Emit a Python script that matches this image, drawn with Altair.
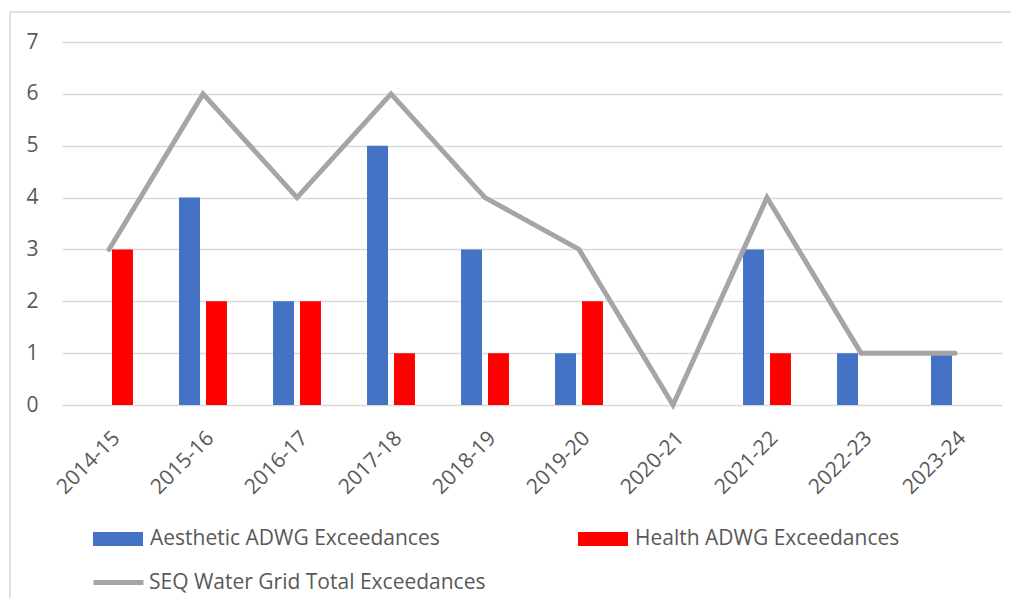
import altair as alt
import pandas as pd

years = ["2014-15", "2015-16", "2016-17", "2017-18", "2018-19",
         "2019-20", "2020-21", "2021-22", "2022-23", "2023-24"]
aesthetic = [0, 4, 2, 5, 3, 1, 0, 3, 1, 1]
health = [3, 2, 2, 1, 1, 2, 0, 1, 0, 0]
total = [3, 6, 4, 6, 4, 3, 0, 4, 1, 1]

bar_series = ["Aesthetic ADWG Exceedances", "Health ADWG Exceedances"]
line_series = "SEQ Water Grid Total Exceedances"

rows = []
for i, y in enumerate(years):
    rows.append({"year": y, "series": bar_series[0], "value": aesthetic[i]})
    rows.append({"year": y, "series": bar_series[1], "value": health[i]})
bars_df = pd.DataFrame(rows)
line_df = pd.DataFrame({"year": years, "value": total, "series": [line_series] * len(years)})

FONT = "Open Sans"
TXT = "#595959"
FS = 21

x_enc = alt.X(
    "year:N", sort=years, title=None,
    scale=alt.Scale(paddingInner=0.49, paddingOuter=0.245),
    axis=alt.Axis(labelAngle=-45, labelAlign="right", labelBaseline="top",
                  labelPadding=22, ticks=False, tickSize=0, domain=False,
                  grid=False, labelFontSize=FS, labelColor=TXT, labelFont=FONT),
)
y_scale = alt.Scale(domain=[0, 7], nice=False)
y_axis = alt.Axis(values=[0, 1, 2, 3, 4, 5, 6, 7], format="d", ticks=False, tickSize=0,
                  domain=False, grid=True, gridColor="#D9D9D9", gridWidth=1.5,
                  labelPadding=24, labelFontSize=FS, labelColor=TXT, labelFont=FONT)

frame = alt.Chart(alt.Data(values=[{"a": 1}])).mark_rect(
    fill="transparent", stroke="#D9D9D9", strokeWidth=1.5
).encode(x=alt.value(-52), x2=alt.value(1200), y=alt.value(-30), y2=alt.value(800))

bars = alt.Chart(bars_df).mark_bar().encode(
    x=x_enc,
    xOffset=alt.XOffset("series:N", sort=bar_series,
                        scale=alt.Scale(paddingInner=0.222, paddingOuter=0)),
    y=alt.Y("value:Q", scale=y_scale, axis=y_axis, title=None),
    color=alt.Color(
        "series:N",
        scale=alt.Scale(domain=bar_series, range=["#4472C4", "#FF0000"]),
        legend=alt.Legend(
            title=None, orient="none", legendX=31, legendY=472,
            direction="horizontal", columns=2, columnPadding=138,
            symbolType="M-1,-0.28L1,-0.28L1,0.28L-1,0.28Z", symbolSize=2500,
            symbolStrokeWidth=0, labelOffset=7, labelFontSize=FS,
            labelColor=TXT, labelFont=FONT, labelLimit=400,
        ),
    ),
)

line = alt.Chart(line_df).mark_line(
    strokeWidth=5, strokeCap="round", strokeJoin="miter"
).encode(
    x=alt.X("year:N", sort=years),
    y=alt.Y("value:Q", scale=y_scale),
    stroke=alt.Stroke(
        "series:N",
        scale=alt.Scale(domain=[line_series], range=["#A5A5A5"]),
        legend=alt.Legend(
            title=None, orient="none", legendX=29, legendY=513,
            symbolType="stroke", symbolSize=2500, symbolStrokeWidth=5,
            labelOffset=3, labelFontSize=FS, labelColor=TXT, labelFont=FONT,
            labelLimit=400,
        ),
    ),
)

chart = alt.layer(frame, bars, line).resolve_scale(
    color="independent"
).properties(
    width=940, height=363,
    autosize=alt.AutoSizeParams(type="none"),
    padding={"left": 54, "top": 34, "right": 9, "bottom": 193},
).configure_view(stroke=None)

chart.save("out.html", embed_options={"renderer": "svg", "actions": False})
